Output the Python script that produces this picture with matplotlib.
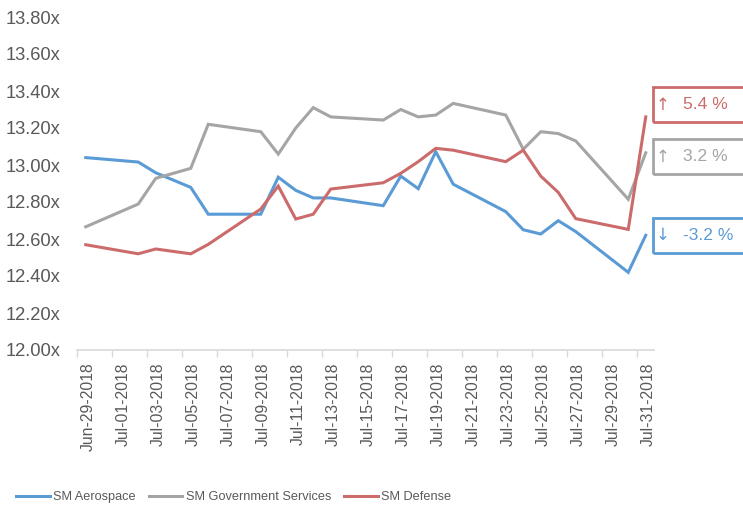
import matplotlib
matplotlib.use("Agg")
import matplotlib.pyplot as plt
import matplotlib.dates as mdates
import matplotlib.transforms as mtransforms
from matplotlib.patches import Rectangle
from matplotlib.lines import Line2D
import pandas as pd
import numpy as np

plt.rcParams['font.family'] = ['Liberation Sans', 'DejaVu Sans']

dates = ["2018-06-29", "2018-07-02", "2018-07-03", "2018-07-05", "2018-07-06",
         "2018-07-09", "2018-07-10", "2018-07-11", "2018-07-12", "2018-07-13",
         "2018-07-16", "2018-07-17", "2018-07-18", "2018-07-19", "2018-07-20",
         "2018-07-23", "2018-07-24", "2018-07-25", "2018-07-26", "2018-07-27",
         "2018-07-30", "2018-07-31"]

aerospace = [13.04, 13.016, 12.958, 12.879, 12.734, 12.734, 12.934, 12.863, 12.822, 12.822,
             12.78, 12.94, 12.872, 13.072, 12.896, 12.748, 12.65, 12.627, 12.699, 12.64,
             12.42, 12.62]
government = [12.666, 12.789, 12.928, 12.982, 13.22, 13.18, 13.059, 13.2, 13.31, 13.26,
              13.243, 13.30, 13.26, 13.27, 13.333, 13.27, 13.085, 13.18, 13.17, 13.13,
              12.815, 13.066]
defense = [12.569, 12.52, 12.546, 12.52, 12.571, 12.762, 12.886, 12.708, 12.734, 12.87,
           12.904, 12.955, 13.018, 13.09, 13.08, 13.018, 13.08, 12.94, 12.852, 12.71,
           12.652, 13.26]

series_names = ["SM Aerospace", "SM Government Services", "SM Defense"]
colors = ["#5B9BD5", "#A5A5A5", "#CC6B6B"]
change_labels = ["-3.2 %", "3.2 %", "5.4 %"]
change_arrows = ["\u2193", "\u2191", "\u2191"]

yticks = [12.0, 12.2, 12.4, 12.6, 12.8, 13.0, 13.2, 13.4, 13.6, 13.8]

W, H = 743, 515
fig = plt.figure(figsize=(W / 100, H / 100), dpi=100)
ax = fig.add_axes([77 / W, (H - 350) / H, (654.5 - 77) / W, (350 - 17) / H])

x = pd.to_datetime(dates)
half = pd.Timedelta(hours=12)
all_series = [aerospace, government, defense]
for vals, c, name in zip(all_series, colors, series_names):
    ax.plot(x, vals, color=c, lw=2.2, solid_joinstyle='miter', label=name)

start = pd.Timestamp("2018-06-29")
end = pd.Timestamp("2018-07-31")
ax.set_xlim(start - half, end + half)
ax.set_ylim(12.0, 13.8)

label_days = pd.date_range(start, end, freq="2D")
ax.set_xticks(label_days - half)
ax.set_xticklabels([])
ax.set_xticks(label_days, minor=True)
ax.set_xticklabels([d.strftime("%b-%d-%Y") for d in label_days], minor=True,
                   rotation=90, fontsize=11.3, color="#595959")
ax.tick_params(axis='x', which='major', length=5, color="#D9D9D9", width=1)
ax.tick_params(axis='x', which='minor', length=0, pad=9)
shift = mtransforms.ScaledTranslation(3 / 100, 0, fig.dpi_scale_trans)
for lbl in ax.get_xticklabels(minor=True):
    lbl.set_transform(lbl.get_transform() + shift)

ax.set_yticks(yticks)
ax.set_yticklabels([f"{v:.2f}x" for v in yticks], fontsize=13.2, color="#595959")
ax.tick_params(axis='y', length=0, pad=12)

for s in ['top', 'right', 'left']:
    ax.spines[s].set_visible(False)
ax.spines['bottom'].set_color("#D9D9D9")
ax.spines['bottom'].set_linewidth(1.2)

# legend
handles = [Line2D([], [], color=c, lw=2.2) for c in colors]
fig.legend(handles, series_names, loc='center', bbox_to_anchor=(233.5 / W, (H - 497) / H),
           ncol=3, frameon=False, fontsize=9.2, labelcolor="#595959",
           handlelength=2.65, handletextpad=0.25, columnspacing=1.0)

# change annotation boxes
fig.canvas.draw()
offsets = [0, -4, 12]
for vals, c, lab, arr, off in zip(all_series, colors, change_labels, change_arrows, offsets):
    px = ax.transData.transform((mdates.date2num(end), vals[-1]))
    cy = px[1] + off
    rect = Rectangle((653, cy - 17.5), 120, 35, transform=None, fill=False,
                     edgecolor=c, lw=2.0, clip_on=False)
    fig.add_artist(rect)
    fig.text(656 / W, cy / H, arr, color=c, fontsize=12, va='center', ha='left',
             family=['DejaVu Sans'])
    fig.text(683 / W, cy / H, lab, color=c, fontsize=12.6, va='center', ha='left')

fig.savefig("out.png", dpi=100)
